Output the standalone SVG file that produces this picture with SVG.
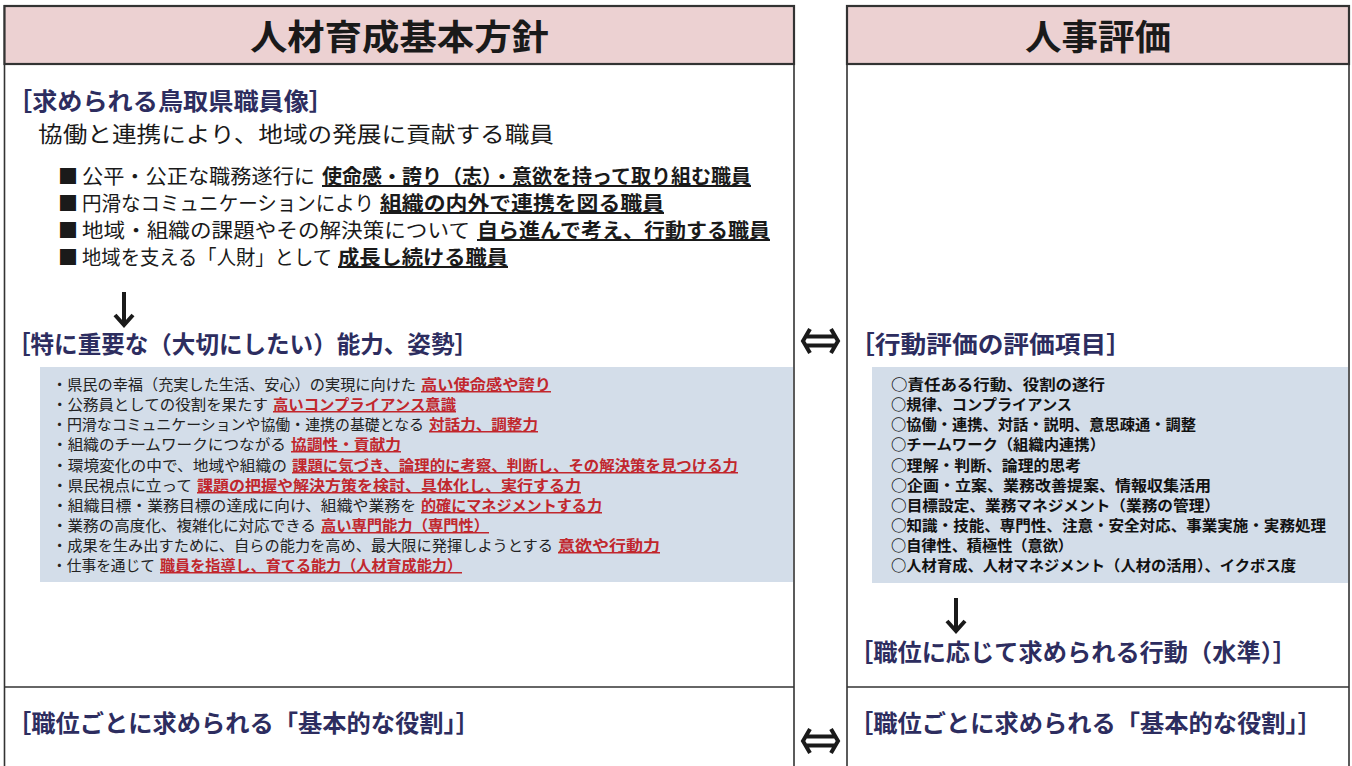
<svg xmlns="http://www.w3.org/2000/svg" width="1352" height="766" viewBox="0 0 1352 766">
<style>
text{font-family:"Noto Sans CJK JP","Noto Sans CJK SC",sans-serif;}
.title{font-size:35px;font-weight:700;fill:#1a1a1a;}
.head{font-size:24px;font-weight:700;fill:#2d2d5f;}
.lead{font-size:22px;fill:#1a1a1a;}
.bul{font-size:20px;fill:#1a1a1a;}
.bulu{font-size:20px;font-weight:700;fill:#1a1a1a;text-decoration:underline;}
.li{font-size:15px;fill:#222;}
.lir{font-size:15px;font-weight:700;fill:#c1272d;text-decoration:underline;}
.ri{font-size:15px;font-weight:700;fill:#111;}
.frame{fill:#fff;stroke:#333;stroke-width:1.6;}
.hdr{fill:#ecd1d2;stroke:#333;stroke-width:2.2;}
.sep{stroke:#333;stroke-width:1.6;}
.band{fill:#d3dde9;}
.arr{fill:none;stroke:#1a1a1a;stroke-width:4;stroke-linecap:butt;stroke-linejoin:miter;}
</style>
<rect width="1352" height="766" fill="#fff"/>

<g id="left-panel">
  <rect class="frame" x="4.5" y="6" width="789.5" height="770"/>
  <rect class="hdr" x="4.5" y="6" width="789.5" height="58"/>
  <text class="title" x="250" y="50" textLength="299" lengthAdjust="spacingAndGlyphs">人材育成基本方針</text>
  <line class="sep" x1="4.5" y1="687" x2="794" y2="687"/>
</g>

<g id="right-panel">
  <rect class="frame" x="847" y="6" width="502" height="770"/>
  <rect class="hdr" x="847" y="6" width="502" height="58"/>
  <text class="title" x="1025" y="50" textLength="146" lengthAdjust="spacingAndGlyphs">人事評価</text>
  <line class="sep" x1="847" y1="687" x2="1349" y2="687"/>
</g>

<g id="ideal-staff">
  <text class="head" x="7" y="110" textLength="327" lengthAdjust="spacingAndGlyphs">［求められる鳥取県職員像］</text>
  <text class="lead" x="38" y="142" textLength="516" lengthAdjust="spacingAndGlyphs">協働と連携により、地域の発展に貢献する職員</text>
  <text class="bul" x="58" y="184">■</text>
  <text class="bul" x="82" y="184" textLength="233" lengthAdjust="spacingAndGlyphs">公平・公正な職務遂行に</text>
  <text class="bulu" x="322" y="184" textLength="429" lengthAdjust="spacingAndGlyphs">使命感・誇り（志）・意欲を持って取り組む職員</text>
  <text class="bul" x="58" y="211">■</text>
  <text class="bul" x="82" y="211" textLength="292" lengthAdjust="spacingAndGlyphs">円滑なコミュニケーションにより</text>
  <text class="bulu" x="380" y="211" textLength="284" lengthAdjust="spacingAndGlyphs">組織の内外で連携を図る職員</text>
  <text class="bul" x="58" y="238">■</text>
  <text class="bul" x="82" y="238" textLength="388" lengthAdjust="spacingAndGlyphs">地域・組織の課題やその解決策について</text>
  <text class="bulu" x="477" y="238" textLength="293" lengthAdjust="spacingAndGlyphs">自ら進んで考え、行動する職員</text>
  <text class="bul" x="58" y="265">■</text>
  <text class="bul" x="82" y="265" textLength="250" lengthAdjust="spacingAndGlyphs">地域を支える「人財」として</text>
  <text class="bulu" x="338" y="265" textLength="170" lengthAdjust="spacingAndGlyphs">成長し続ける職員</text>
</g>

<g id="key-abilities">
  <text class="head" x="7" y="353" textLength="471" lengthAdjust="spacingAndGlyphs">［特に重要な（大切にしたい）能力、姿勢］</text>
  <rect class="band" x="40" y="367" width="753" height="215"/>
  <text class="li" x="52" y="390" textLength="364" lengthAdjust="spacingAndGlyphs">・県民の幸福（充実した生活、安心）の実現に向けた</text>
  <text class="lir" x="421" y="390" textLength="130" lengthAdjust="spacingAndGlyphs">高い使命感や誇り</text>
  <text class="li" x="52" y="410" textLength="216" lengthAdjust="spacingAndGlyphs">・公務員としての役割を果たす</text>
  <text class="lir" x="273" y="410" textLength="183" lengthAdjust="spacingAndGlyphs">高いコンプライアンス意識</text>
  <text class="li" x="52" y="430" textLength="372" lengthAdjust="spacingAndGlyphs">・円滑なコミュニケーションや協働・連携の基礎となる</text>
  <text class="lir" x="429" y="430" textLength="109" lengthAdjust="spacingAndGlyphs">対話力、調整力</text>
  <text class="li" x="52" y="450" textLength="234" lengthAdjust="spacingAndGlyphs">・組織のチームワークにつながる</text>
  <text class="lir" x="291" y="450" textLength="110" lengthAdjust="spacingAndGlyphs">協調性・貢献力</text>
  <text class="li" x="52" y="471" textLength="235" lengthAdjust="spacingAndGlyphs">・環境変化の中で、地域や組織の</text>
  <text class="lir" x="292" y="471" textLength="446" lengthAdjust="spacingAndGlyphs">課題に気づき、論理的に考察、判断し、その解決策を見つける力</text>
  <text class="li" x="52" y="491" textLength="140" lengthAdjust="spacingAndGlyphs">・県民視点に立って</text>
  <text class="lir" x="197" y="491" textLength="384" lengthAdjust="spacingAndGlyphs">課題の把握や解決方策を検討、具体化し、実行する力</text>
  <text class="li" x="52" y="511" textLength="364" lengthAdjust="spacingAndGlyphs">・組織目標・業務目標の達成に向け、組織や業務を</text>
  <text class="lir" x="421" y="511" textLength="181" lengthAdjust="spacingAndGlyphs">的確にマネジメントする力</text>
  <text class="li" x="52" y="531" textLength="264" lengthAdjust="spacingAndGlyphs">・業務の高度化、複雑化に対応できる</text>
  <text class="lir" x="321" y="531" textLength="168" lengthAdjust="spacingAndGlyphs">高い専門能力（専門性）</text>
  <text class="li" x="52" y="551" textLength="501" lengthAdjust="spacingAndGlyphs">・成果を生み出すために、自らの能力を高め、最大限に発揮しようとする</text>
  <text class="lir" x="558" y="551" textLength="102" lengthAdjust="spacingAndGlyphs">意欲や行動力</text>
  <text class="li" x="52" y="571" textLength="103" lengthAdjust="spacingAndGlyphs">・仕事を通じて</text>
  <text class="lir" x="160" y="571" textLength="302" lengthAdjust="spacingAndGlyphs">職員を指導し、育てる能力（人材育成能力）</text>
</g>

<g id="evaluation-items">
  <text class="head" x="849" y="353" textLength="283" lengthAdjust="spacingAndGlyphs">［行動評価の評価項目］</text>
  <rect class="band" x="872" y="367" width="476" height="216"/>
  <text class="ri" x="891" y="390" textLength="214" lengthAdjust="spacingAndGlyphs">○責任ある行動、役割の遂行</text>
  <text class="ri" x="891" y="410" textLength="181" lengthAdjust="spacingAndGlyphs">○規律、コンプライアンス</text>
  <text class="ri" x="891" y="430" textLength="305" lengthAdjust="spacingAndGlyphs">○協働・連携、対話・説明、意思疎通・調整</text>
  <text class="ri" x="891" y="450" textLength="214" lengthAdjust="spacingAndGlyphs">○チームワーク（組織内連携）</text>
  <text class="ri" x="891" y="471" textLength="190" lengthAdjust="spacingAndGlyphs">○理解・判断、論理的思考</text>
  <text class="ri" x="891" y="491" textLength="320" lengthAdjust="spacingAndGlyphs">○企画・立案、業務改善提案、情報収集活用</text>
  <text class="ri" x="891" y="511" textLength="329" lengthAdjust="spacingAndGlyphs">○目標設定、業務マネジメント（業務の管理）</text>
  <text class="ri" x="891" y="531" textLength="435" lengthAdjust="spacingAndGlyphs">○知識・技能、専門性、注意・安全対応、事業実施・実務処理</text>
  <text class="ri" x="891" y="551" textLength="182" lengthAdjust="spacingAndGlyphs">○自律性、積極性（意欲）</text>
  <text class="ri" x="891" y="571" textLength="405" lengthAdjust="spacingAndGlyphs">○人材育成、人材マネジメント（人材の活用）、イクボス度</text>
</g>

<g id="position-behavior">
  <text class="head" x="849" y="661" textLength="448" lengthAdjust="spacingAndGlyphs">［職位に応じて求められる行動（水準）］</text>
</g>

<g id="basic-role-left">
  <text class="head" x="7" y="732" textLength="473" lengthAdjust="spacingAndGlyphs">［職位ごとに求められる「基本的な役割」］</text>
</g>

<g id="basic-role-right">
  <text class="head" x="849" y="732" textLength="473" lengthAdjust="spacingAndGlyphs">［職位ごとに求められる「基本的な役割」］</text>
</g>

<g id="connectors">
  <path class="arr" d="M124 292 V324 M115 315 L124 325 L133 315"/>
  <path class="arr" d="M956 598 V630 M947 621 L956 631 L965 621"/>
  <path class="arr" d="M810 329 L803 341 L810 353 M831 329 L838 341 L831 353 M806 336.5 H835 M806 345.5 H835"/>
  <path class="arr" d="M810 729 L803 741 L810 753 M831 729 L838 741 L831 753 M806 736.5 H835 M806 745.5 H835"/>
</g>
</svg>
